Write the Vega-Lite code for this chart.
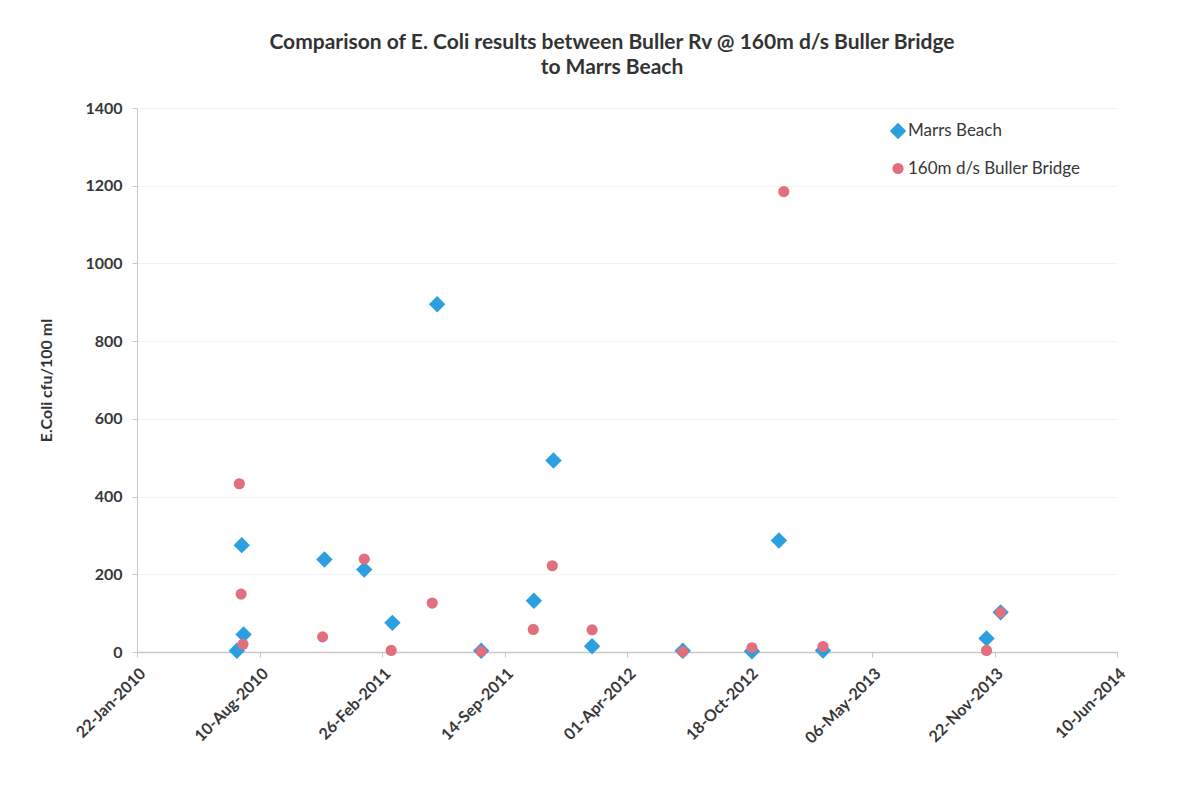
{
  "$schema": "https://vega.github.io/schema/vega-lite/v6.json",
  "autosize": {"type": "none"},
  "padding": {"left": 137, "top": 108, "right": 81, "bottom": 149},
  "width": 980,
  "height": 544,
  "background": "white",
  "config": {
    "font": "Lato",
    "view": {"stroke": null},
    "axis": {"labelFont": "Lato", "titleFont": "Lato", "labelColor": "#383838", "titleColor": "#333333", "domainColor": "#c8c8c8", "tickColor": "#c8c8c8", "gridColor": "#f2f2f2"}
  },
  "title": {
    "text": ["Comparison of E. Coli results between Buller Rv @ 160m d/s Buller Bridge", "to Marrs Beach"],
    "font": "Lato",
    "fontSize": 21,
    "fontWeight": "bold",
    "color": "#333333",
    "anchor": "middle",
    "offset": 22,
    "lineHeight": 25,
    "dx": -15
  },
  "data": {
    "values": [
      {"site": "Marrs Beach", "date": "2010-07-04", "ecoli": 3},
      {"site": "Marrs Beach", "date": "2010-07-12", "ecoli": 275},
      {"site": "Marrs Beach", "date": "2010-07-15", "ecoli": 45},
      {"site": "Marrs Beach", "date": "2010-11-24", "ecoli": 238},
      {"site": "Marrs Beach", "date": "2011-01-28", "ecoli": 212},
      {"site": "Marrs Beach", "date": "2011-03-15", "ecoli": 75},
      {"site": "Marrs Beach", "date": "2011-05-27", "ecoli": 895},
      {"site": "Marrs Beach", "date": "2011-08-07", "ecoli": 3},
      {"site": "Marrs Beach", "date": "2011-11-01", "ecoli": 132},
      {"site": "Marrs Beach", "date": "2011-12-03", "ecoli": 493},
      {"site": "Marrs Beach", "date": "2012-02-04", "ecoli": 15},
      {"site": "Marrs Beach", "date": "2012-07-01", "ecoli": 3},
      {"site": "Marrs Beach", "date": "2012-10-22", "ecoli": 2},
      {"site": "Marrs Beach", "date": "2012-12-05", "ecoli": 287},
      {"site": "Marrs Beach", "date": "2013-02-15", "ecoli": 4},
      {"site": "Marrs Beach", "date": "2013-11-09", "ecoli": 35},
      {"site": "Marrs Beach", "date": "2013-12-02", "ecoli": 102},
      {"site": "160m d/s Buller Bridge", "date": "2010-07-08", "ecoli": 433},
      {"site": "160m d/s Buller Bridge", "date": "2010-07-11", "ecoli": 149},
      {"site": "160m d/s Buller Bridge", "date": "2010-07-14", "ecoli": 20},
      {"site": "160m d/s Buller Bridge", "date": "2010-11-21", "ecoli": 39},
      {"site": "160m d/s Buller Bridge", "date": "2011-01-28", "ecoli": 239},
      {"site": "160m d/s Buller Bridge", "date": "2011-03-13", "ecoli": 4},
      {"site": "160m d/s Buller Bridge", "date": "2011-05-19", "ecoli": 126},
      {"site": "160m d/s Buller Bridge", "date": "2011-08-07", "ecoli": 2},
      {"site": "160m d/s Buller Bridge", "date": "2011-10-31", "ecoli": 58},
      {"site": "160m d/s Buller Bridge", "date": "2011-12-01", "ecoli": 222},
      {"site": "160m d/s Buller Bridge", "date": "2012-02-04", "ecoli": 57},
      {"site": "160m d/s Buller Bridge", "date": "2012-07-01", "ecoli": 1},
      {"site": "160m d/s Buller Bridge", "date": "2012-10-22", "ecoli": 11},
      {"site": "160m d/s Buller Bridge", "date": "2012-12-13", "ecoli": 1185},
      {"site": "160m d/s Buller Bridge", "date": "2013-02-15", "ecoli": 14},
      {"site": "160m d/s Buller Bridge", "date": "2013-11-09", "ecoli": 4},
      {"site": "160m d/s Buller Bridge", "date": "2013-12-02", "ecoli": 102}
    ]
  },
  "mark": {"type": "point", "filled": true, "opacity": 1, "strokeWidth": 0},
  "encoding": {
    "x": {
      "field": "date",
      "type": "temporal",
      "scale": {
        "type": "utc",
        "domain": [
          {"year": 2010, "month": 1, "date": 22, "utc": true},
          {"year": 2014, "month": 6, "date": 10, "utc": true}
        ],
        "nice": false
      },
      "axis": {
        "title": null,
        "values": [
          {"year": 2010, "month": 1, "date": 22, "utc": true},
          {"year": 2010, "month": 8, "date": 10, "utc": true},
          {"year": 2011, "month": 2, "date": 26, "utc": true},
          {"year": 2011, "month": 9, "date": 14, "utc": true},
          {"year": 2012, "month": 4, "date": 1, "utc": true},
          {"year": 2012, "month": 10, "date": 18, "utc": true},
          {"year": 2013, "month": 5, "date": 6, "utc": true},
          {"year": 2013, "month": 11, "date": 22, "utc": true},
          {"year": 2014, "month": 6, "date": 10, "utc": true}
        ],
        "format": "%d-%b-%Y",
        "labelAngle": -45,
        "labelFontSize": 16,
        "labelFontWeight": "bold",
        "labelPadding": 8,
        "tickSize": 5,
        "grid": false,
        "domainWidth": 1.5
      }
    },
    "y": {
      "field": "ecoli",
      "type": "quantitative",
      "scale": {"domain": [0, 1400], "nice": false},
      "axis": {
        "title": "E.Coli cfu/100 ml",
        "titleFontSize": 16,
        "titleFontWeight": "bold",
        "titlePadding": 30,
        "values": [0, 200, 400, 600, 800, 1000, 1200, 1400],
        "format": "d",
        "labelFontSize": 16,
        "labelFontWeight": "bold",
        "labelPadding": 10,
        "tickSize": 5,
        "grid": true,
        "gridWidth": 1
      }
    },
    "color": {
      "field": "site",
      "type": "nominal",
      "scale": {"domain": ["Marrs Beach", "160m d/s Buller Bridge"], "range": ["#2b9fe0", "#e0707f"]},
      "legend": {
        "title": null,
        "orient": "none",
        "legendX": 752,
        "legendY": 14,
        "labelFontSize": 17,
        "labelColor": "#383838",
        "labelFont": "Lato",
        "labelLimit": 300,
        "symbolSize": 110,
        "rowPadding": 19,
        "labelOffset": 1
      }
    },
    "shape": {
      "field": "site",
      "type": "nominal",
      "scale": {"domain": ["Marrs Beach", "160m d/s Buller Bridge"], "range": ["diamond", "circle"]}
    },
    "size": {
      "field": "site",
      "type": "nominal",
      "scale": {"domain": ["Marrs Beach", "160m d/s Buller Bridge"], "range": [270, 125]},
      "legend": null
    }
  }
}
